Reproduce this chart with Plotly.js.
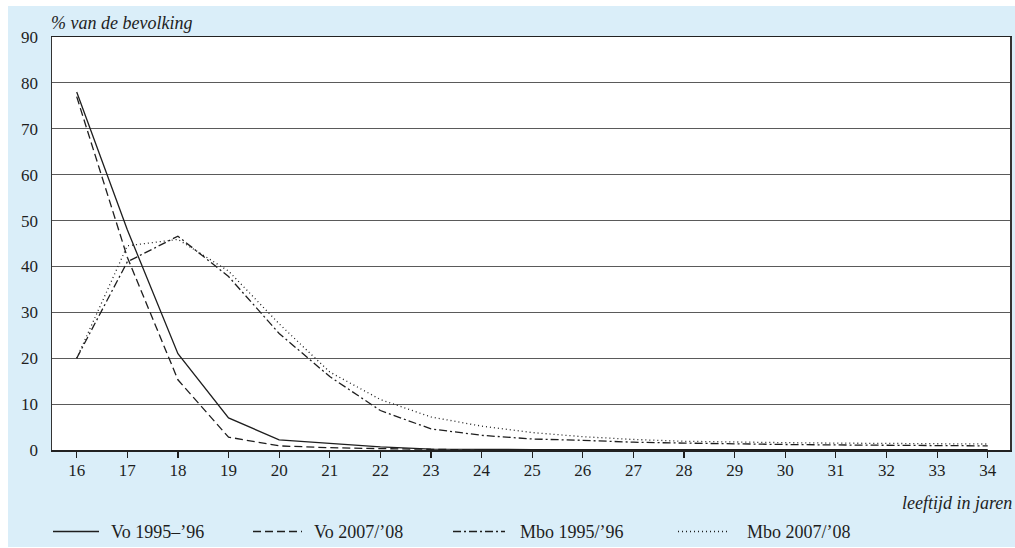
<!DOCTYPE html>
<html>
<head>
<meta charset="utf-8">
<script src="https://cdn.plot.ly/plotly-3.0.1.min.js"></script>
<style>
  html, body { margin: 0; padding: 0; background: #ffffff; }
  #chart { position: absolute; left: 8px; top: 6px; width: 1007px; height: 541px; }
</style>
</head>
<body>
<div id="chart"></div>
<script>
// ---- data ----
const ages = [16, 17, 18, 19, 20, 21, 22, 23, 24, 25, 26, 27, 28, 29, 30, 31, 32, 33, 34];
const seriesNames = ["Vo 1995\u2013\u201996", "Vo 2007/\u201908", "Mbo 1995/\u201996", "Mbo 2007/\u201908"];
const vo9596  = [78, 48, 21, 7, 2.2, 1.4, 0.7, 0.2, 0.1, 0.1, 0.1, 0.1, 0.1, 0.1, 0.1, 0.1, 0.1, 0.1, 0.1];
const vo0708  = [77, 42, 15.3, 2.8, 0.9, 0.5, 0.3, 0.1, 0, 0, 0, 0, 0, 0, 0, 0, 0, 0, 0];
const mbo9596 = [20, 41, 46.6, 37.8, 25.4, 16, 8.6, 4.6, 3.2, 2.4, 2.1, 1.7, 1.5, 1.3, 1.2, 1.1, 1.0, 1.0, 0.9];
const mbo0708 = [20, 44.5, 45.9, 39, 27.5, 17, 11, 7.2, 5.2, 3.8, 2.9, 2.3, 1.9, 1.7, 1.6, 1.5, 1.4, 1.3, 1.3];
const yTicks = [0, 10, 20, 30, 40, 50, 60, 70, 80, 90];
const yTitle = "% van de bevolking";
const xTitle = "leeftijd in jaren";

// ---- styling ----
const W = 1007, H = 541;
const M = { l: 44, r: 5, t: 31, b: 97 };
const pw = W - M.l - M.r, ph = H - M.t - M.b;
const plotBottom = H - M.b;
const px = x => (x - M.l) / pw;
const py = y => (plotBottom - y) / ph;

const FONT = "'Liberation Serif', 'DejaVu Serif', serif";
const INK = "#1e1e1e";
const dashes = ["solid", "8px,4px", "8px,3px,2px,3px", "1px,3px"];
const values = [vo9596, vo0708, mbo9596, mbo0708];

const traces = values.map((v, i) => ({
  x: ages, y: v, type: "scatter", mode: "lines", name: seriesNames[i],
  line: { color: INK, width: 1.3, dash: dashes[i] },
  hoverinfo: "skip", showlegend: false
}));

// custom legend (line samples + labels), pixel positions in div coords
const legendY = 525.5;
const sampleX = [[45, 91], [245, 294], [445, 497], [670, 719]];
const labelX = [101, 304, 510, 737];

const shapes = [];
const annotations = [];
seriesNames.forEach((n, i) => {
  shapes.push({
    type: "line", xref: "paper", yref: "paper",
    x0: px(sampleX[i][0]), x1: px(sampleX[i][1]), y0: py(legendY), y1: py(legendY),
    line: { color: INK, width: 1.3, dash: dashes[i] }
  });
  annotations.push({
    xref: "paper", yref: "paper", x: px(labelX[i]), y: py(legendY),
    xanchor: "left", yanchor: "middle", showarrow: false, text: n,
    font: { family: FONT, size: 18, color: INK }
  });
});

annotations.push({
  xref: "paper", yref: "paper", x: 0, y: 1, xanchor: "left", yanchor: "middle",
  xshift: -3, yshift: 14, showarrow: false, text: "<i>" + yTitle + "</i>",
  font: { family: FONT, size: 18, color: INK }
});
annotations.push({
  xref: "paper", yref: "paper", x: 1, y: 0, xanchor: "right", yanchor: "middle",
  xshift: 4, yshift: -53, showarrow: false, text: "<i>" + xTitle + "</i>",
  font: { family: FONT, size: 18, color: INK }
});

const layout = {
  width: W, height: H,
  margin: M,
  paper_bgcolor: "#daeef9",
  plot_bgcolor: "#ffffff",
  showlegend: false,
  font: { family: FONT, size: 17, color: INK },
  xaxis: {
    range: [15.512, 34.44],
    tickmode: "array", tickvals: ages, ticktext: ages.map(String),
    ticks: "outside", ticklen: 6, tickwidth: 1.2, tickcolor: INK,
    ticklabelstandoff: -2,
    showgrid: false, zeroline: false,
    showline: true, linecolor: "#222", linewidth: 1.5, mirror: true,
    tickfont: { family: FONT, size: 17, color: INK },
    fixedrange: true
  },
  yaxis: {
    range: [0, 90],
    tickmode: "array", tickvals: yTicks, ticktext: yTicks.map(String),
    ticks: "", ticklabelstandoff: 9,
    showgrid: true, gridcolor: "#5a5a5a", gridwidth: 1.2,
    zeroline: false,
    showline: true, linecolor: "#333", linewidth: 1.5, mirror: true,
    tickfont: { family: FONT, size: 17, color: INK },
    fixedrange: true
  },
  shapes: shapes,
  annotations: annotations
};

Plotly.newPlot("chart", traces, layout, { displayModeBar: false, staticPlot: true });
</script>
</body>
</html>
